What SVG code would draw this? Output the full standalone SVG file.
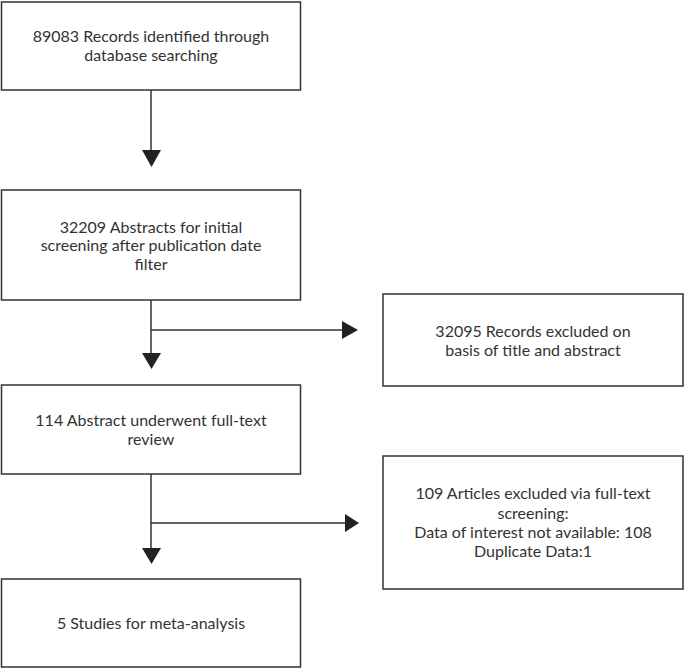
<svg xmlns="http://www.w3.org/2000/svg" width="685" height="670" viewBox="0 0 685 670">
<defs>
<style>
.box{fill:#fff;stroke:#333;stroke-width:1.5}
.t{font-family:Lato,"Liberation Sans",sans-serif;font-size:16px;fill:#333;text-anchor:middle}
.c{stroke:#333;stroke-width:1.5;fill:none}
.h{fill:#222}
</style>
</defs>
<rect width="685" height="670" fill="#fff"/>
<g id="n1"><rect class="box" x="1.5" y="2" width="299" height="88"/>
<text class="t" x="151" y="42">89083 Records identified through</text>
<text class="t" x="151" y="61">database searching</text></g>
<g id="n2"><rect class="box" x="1.5" y="190" width="299" height="110"/>
<text class="t" x="151" y="233">32209 Abstracts for initial</text>
<text class="t" x="151" y="251">screening after publication date</text>
<text class="t" x="151" y="270">filter</text></g>
<g id="n3"><rect class="box" x="383" y="294" width="300" height="92"/>
<text class="t" x="533" y="337">32095 Records excluded on</text>
<text class="t" x="533" y="356">basis of title and abstract</text></g>
<g id="n4"><rect class="box" x="1.5" y="385" width="299" height="89"/>
<text class="t" x="151" y="426">114 Abstract underwent full-text</text>
<text class="t" x="151" y="445">review</text></g>
<g id="n5"><rect class="box" x="383" y="456" width="300" height="133"/>
<text class="t" x="533" y="499">109 Articles excluded via full-text</text>
<text class="t" x="533" y="519">screening:</text>
<text class="t" x="533" y="538">Data of interest not available: 108</text>
<text class="t" x="533" y="557">Duplicate Data:1</text></g>
<g id="n6"><rect class="box" x="1.5" y="579" width="299" height="88"/>
<text class="t" x="151" y="629">5 Studies for meta-analysis</text></g>
<g id="connectors">
<path class="c" d="M151 90V152"/>
<polygon class="h" points="142,150 161,150 151.5,167"/>
<path class="c" d="M151 300V354"/>
<polygon class="h" points="142,353 161,353 151.5,369"/>
<path class="c" d="M151 330H344"/>
<polygon class="h" points="342,321 342,339 358,330"/>
<path class="c" d="M151 474V549"/>
<polygon class="h" points="142,548 161,548 151.5,564"/>
<path class="c" d="M151 523H346"/>
<polygon class="h" points="345,514 345,532 359,523"/>
</g>
</svg>
